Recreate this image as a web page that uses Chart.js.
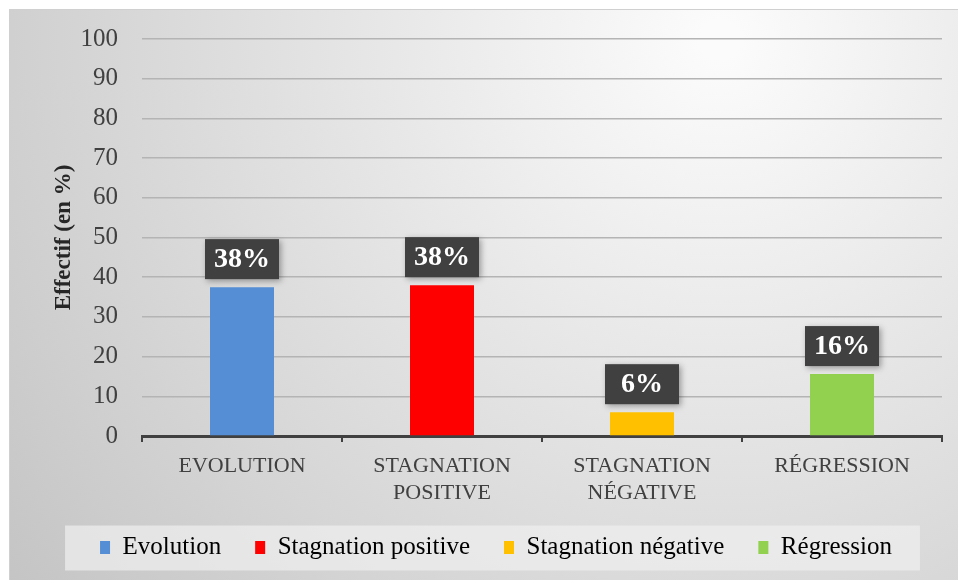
<!DOCTYPE html>
<html>
<head>
<meta charset="utf-8">
<script src="https://cdn.jsdelivr.net/npm/chart.js@4/dist/chart.umd.min.js"></script>
<style>
  html, body { margin: 0; padding: 0; background: #fff; }
  #wrap { width: 958px; height: 580px; }
</style>
</head>
<body>
<div id="wrap"><canvas id="chart" width="958" height="580"></canvas></div>
<script>
// données
const categories = ['EVOLUTION', ['STAGNATION', 'POSITIVE'], ['STAGNATION', 'NÉGATIVE'], 'RÉGRESSION'];
const legendLabels = ['Evolution', 'Stagnation positive', 'Stagnation négative', 'Régression'];
const values = [37.5, 38, 6, 15.6];
const valueLabels = ['38%', '38%', '6%', '16%'];
const barColors = ['#558ed5', '#ff0000', '#ffc000', '#92d050'];
const yTicks = [0, 10, 20, 30, 40, 50, 60, 70, 80, 90, 100];

const SERIF = '"Liberation Serif", serif';

// fond dégradé + cadre + boîte de légende
const backgroundPlugin = {
    id: 'bg',
    beforeDraw(chart) {
        const ctx = chart.ctx;
        ctx.save();
        ctx.fillStyle = '#ffffff';
        ctx.fillRect(0, 0, chart.width, chart.height);
        const g = ctx.createRadialGradient(720, 40, 20, 720, 40, 900);
        g.addColorStop(0, '#fbfbfb');
        g.addColorStop(1, '#c4c4c4');
        ctx.fillStyle = g;
        ctx.fillRect(9, 9, chart.width - 9, chart.height - 9);
        ctx.strokeStyle = '#d0d0d0';
        ctx.lineWidth = 1;
        ctx.strokeRect(9.5, 9.5, chart.width - 9, chart.height - 9);
        const lg = chart.legend;
        if (lg && lg.legendHitBoxes && lg.legendHitBoxes.length) {
            const boxes = lg.legendHitBoxes;
            const left = Math.min(...boxes.map(b => b.left)) - 35;
            const right = Math.max(...boxes.map(b => b.left + b.width)) + 28;
            const cy = boxes[0].top + boxes[0].height / 2;
            ctx.fillStyle = 'rgba(240,240,240,0.7)';
            ctx.fillRect(left, cy - 22, right - left, 45);
        }
        ctx.restore();
    }
};

// étiquettes de valeur dans des boîtes sombres
const valueLabelPlugin = {
    id: 'valueLabels',
    afterDatasetsDraw(chart) {
        const ctx = chart.ctx;
        const meta = chart.getDatasetMeta(0);
        ctx.save();
        meta.data.forEach((bar, i) => {
            const w = 74, h = 40;
            const x = bar.x - w / 2;
            const y = bar.y - 8 - h;
            ctx.shadowColor = 'rgba(0,0,0,0.35)';
            ctx.shadowBlur = 6;
            ctx.shadowOffsetX = 2;
            ctx.shadowOffsetY = 2;
            ctx.fillStyle = '#404040';
            ctx.fillRect(x, y, w, h);
            ctx.shadowColor = 'transparent';
            ctx.fillStyle = '#ffffff';
            ctx.font = 'bold 28px ' + SERIF;
            ctx.textAlign = 'center';
            ctx.textBaseline = 'middle';
            ctx.fillText(valueLabels[i], bar.x, y + h / 2 + 1);
        });
        ctx.restore();
    }
};

new Chart(document.getElementById('chart'), {
    type: 'bar',
    data: {
        labels: categories,
        datasets: [{
            data: values,
            backgroundColor: barColors,
            borderWidth: 0,
            categoryPercentage: 1,
            barPercentage: 0.32
        }]
    },
    options: {
        responsive: false,
        animation: false,
        layout: { padding: { left: 50, right: 16, top: 38, bottom: 10 } },
        plugins: {
            tooltip: { enabled: false },
            legend: {
                position: 'bottom',
                labels: {
                    boxWidth: 10,
                    boxHeight: 13,
                    padding: 34,
                    color: '#404040',
                    font: { family: SERIF, size: 25 },
                    generateLabels: () => legendLabels.map((t, i) => ({
                        text: t,
                        fillStyle: barColors[i],
                        strokeStyle: barColors[i],
                        lineWidth: 0,
                        hidden: false,
                        index: i
                    }))
                }
            }
        },
        scales: {
            x: {
                grid: {
                    offset: true,
                    drawOnChartArea: false,
                    drawTicks: true,
                    tickLength: 6,
                    color: '#404040',
                    lineWidth: 2
                },
                border: { color: '#404040', width: 3 },
                ticks: {
                    color: '#404040',
                    padding: 10,
                    font: { family: SERIF, size: 22, lineHeight: 1.25 },
                    maxRotation: 0
                },
                afterFit(scale) { scale.height = 65; }
            },
            y: {
                min: 0,
                max: 100,
                afterBuildTicks(scale) { scale.ticks = yTicks.map(v => ({ value: v })); },
                grid: { color: '#b4b4b4', lineWidth: 1.5, drawTicks: false },
                border: { display: false },
                ticks: {
                    color: '#404040',
                    padding: 24,
                    font: { family: SERIF, size: 25 }
                },
                title: {
                    display: true,
                    text: 'Effectif (en %)',
                    color: '#262626',
                    font: { family: SERIF, size: 23, weight: 'bold' },
                    padding: 0
                },
                afterFit(scale) { scale.width = 142 - 50; }
            }
        }
    },
    plugins: [backgroundPlugin, valueLabelPlugin]
});
</script>
</body>
</html>
